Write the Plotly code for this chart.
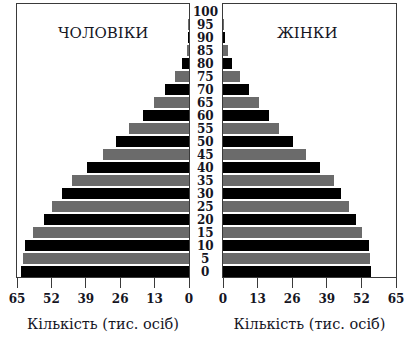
import plotly.graph_objects as go

ages = [0, 5, 10, 15, 20, 25, 30, 35, 40, 45, 50, 55, 60, 65, 70, 75, 80, 85, 90, 95, 100]
age_labels = [str(a) for a in ages]
men = [63.5, 62.9, 62.0, 58.8, 54.8, 51.8, 48.1, 44.2, 38.7, 32.4, 27.6, 22.6, 17.3, 13.2, 9.1, 5.3, 2.8, 0.7, 0.3, 0.1, 0.0]
women = [55.6, 55.1, 54.7, 52.1, 49.8, 47.4, 44.3, 41.8, 36.4, 31.1, 26.2, 21.2, 17.4, 13.6, 9.7, 6.2, 3.5, 1.8, 0.7, 0.2, 0.0]
tick_vals = [0, 13, 26, 39, 52, 65]
colors = ["#000000" if i % 2 == 0 else "#6b6b6b" for i in range(len(ages))]

serif = "DejaVu Serif"
txt = "#15151f"

fig = go.Figure()
fig.add_trace(go.Bar(y=ages, x=men, orientation="h", width=4.2,
                     marker=dict(color=colors, line=dict(width=0)),
                     xaxis="x", yaxis="y", showlegend=False))
fig.add_trace(go.Bar(y=ages, x=women, orientation="h", width=4.2,
                     marker=dict(color=colors, line=dict(width=0)),
                     xaxis="x2", yaxis="y2", showlegend=False))

W, H = 408, 344
L, R, T, B = 17, 12, 4, 67
pw = W - L - R
ph = H - T - B
def px(p):
    return (p - L) / pw
def py(p):
    return (H - B - p) / ph

axis_common = dict(showline=True, mirror=True, linecolor="#3a3a3a", linewidth=1.2,
                   showgrid=False, zeroline=False, ticks="outside", ticklen=10,
                   tickcolor="#3a3a3a", tickwidth=1.2, tickvals=tick_vals,
                   tickfont=dict(family=serif, size=12, color=txt, weight="bold"),
                   title=dict(text="Кількість (тис. осіб)", standoff=14,
                              font=dict(family=serif, size=14.5, color=txt)))
yax_common = dict(range=[-2.1, 103], showline=True, mirror=True, linecolor="#3a3a3a",
                  linewidth=1.2, showgrid=False, zeroline=False, showticklabels=False,
                  ticks="")

fig.update_layout(
    width=W, height=H,
    margin=dict(l=L, r=R, t=T, b=B),
    paper_bgcolor="white", plot_bgcolor="white",
    bargap=0,
    xaxis=dict(domain=[0, px(189)], range=[65, 0], anchor="y", **axis_common),
    xaxis2=dict(domain=[px(223), 1], range=[0, 65], anchor="y2", **axis_common),
    yaxis=dict(anchor="x", **yax_common),
    yaxis2=dict(anchor="x2", matches="y", **yax_common),
)

ann = []
for a, lab in zip(ages, age_labels):
    ann.append(dict(x=px(205), xref="paper", y=a, yref="y", text=lab, showarrow=False,
                    xanchor="center", yanchor="middle",
                    font=dict(family=serif, size=12, color=txt, weight="bold")))
ann.append(dict(x=px(102.5), y=py(33), xref="paper", yref="paper", text="ЧОЛОВІКИ",
                showarrow=False, xanchor="center", yanchor="middle",
                font=dict(family=serif, size=15, color=txt)))
ann.append(dict(x=px(307.5), y=py(33), xref="paper", yref="paper", text="ЖІНКИ",
                showarrow=False, xanchor="center", yanchor="middle",
                font=dict(family=serif, size=15, color=txt)))
fig.update_layout(annotations=ann)

fig.write_html("out.html")
